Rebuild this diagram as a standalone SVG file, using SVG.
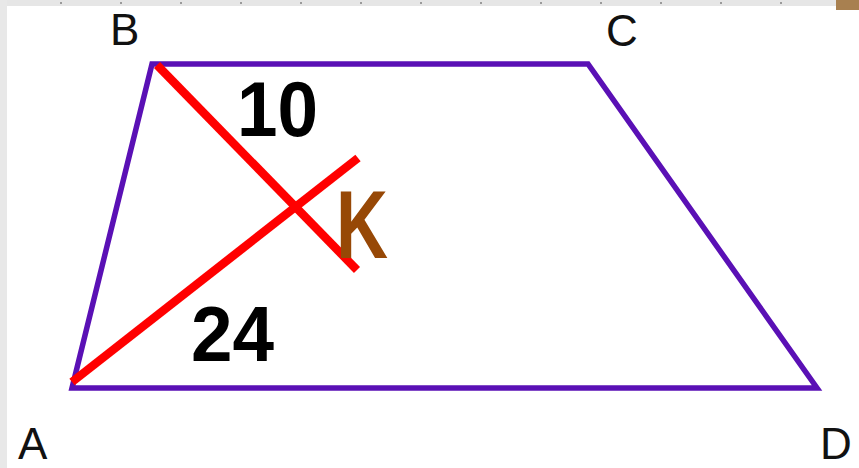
<svg xmlns="http://www.w3.org/2000/svg" width="859" height="468" viewBox="0 0 859 468">
  <style>
    .side { fill: none; stroke: #5a10b5; stroke-width: 5.5; stroke-linejoin: miter; }
    .red { stroke: #ff0000; stroke-width: 8.5; stroke-linecap: butt; }
    .vlabel { font-family: "Liberation Sans", Arial, sans-serif; font-size: 44px; fill: #111; }
    .num { font-family: "Liberation Sans", Arial, sans-serif; font-weight: bold; font-size: 78px; fill: #000; }
    .k { font-family: "Liberation Sans", Arial, sans-serif; font-weight: bold; font-size: 97px; fill: #974806; }
  </style>
  <rect x="0" y="0" width="859" height="468" fill="#ffffff"/>
  <!-- frame edges -->
  <rect x="0" y="0" width="859" height="6" fill="#e6e6e6"/>
  <line x1="0" y1="3" x2="835" y2="3" stroke="#9a9a9a" stroke-width="2" stroke-dasharray="2 58"/>
  <rect x="0" y="0" width="7" height="468" fill="#e8e8e8"/>
  <rect x="836" y="0" width="23" height="10" fill="#a88050"/>

  <g id="trapezoid">
    <polygon class="side" points="152,64 588,64 817,388 72,388"/>
  </g>
  <g id="connectors">
    <line class="red" x1="157" y1="65" x2="357" y2="270"/>
    <line class="red" x1="72" y1="382" x2="358" y2="158"/>
  </g>
  <g id="label-B"><text class="vlabel" x="110" y="45">B</text></g>
  <g id="label-C"><text class="vlabel" x="606" y="46">C</text></g>
  <g id="label-A"><text class="vlabel" x="18" y="459">A</text></g>
  <g id="label-D"><text class="vlabel" x="820" y="459">D</text></g>
  <g id="label-10"><text class="num" x="237" y="136" textLength="81" lengthAdjust="spacingAndGlyphs">10</text></g>
  <g id="label-24"><text class="num" x="191" y="361" textLength="83" lengthAdjust="spacingAndGlyphs">24</text></g>
  <g id="label-K"><text class="k" x="336" y="258" textLength="52" lengthAdjust="spacingAndGlyphs">K</text></g>
</svg>
